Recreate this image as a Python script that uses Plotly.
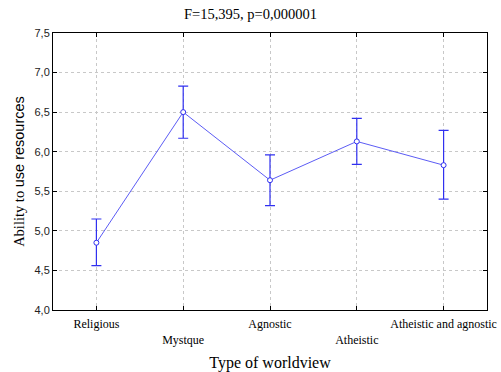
import plotly.graph_objects as go

categories = ["Religious", "Mystque", "Agnostic", "Atheistic", "Atheistic and agnostic"]
means = [4.85, 6.50, 5.64, 6.13, 5.83]
upper = [5.15, 6.83, 5.96, 6.42, 6.27]
lower = [4.56, 6.17, 5.32, 5.84, 5.40]
y_ticks = [4.0, 4.5, 5.0, 5.5, 6.0, 6.5, 7.0, 7.5]
y_tick_labels = ["4,0", "4,5", "5,0", "5,5", "6,0", "6,5", "7,0", "7,5"]

x_pos = list(range(len(categories)))
err_plus = [u - m for u, m in zip(upper, means)]
err_minus = [m - l for m, l in zip(means, lower)]
# alternate category labels between two rows
x_tick_text = [c if i % 2 == 0 else "<br>" + c for i, c in enumerate(categories)]

blue = "#3030f0"

fig = go.Figure(
    go.Scatter(
        x=x_pos,
        y=means,
        mode="lines+markers",
        line=dict(color="#5c5cf5", width=1),
        marker=dict(symbol="circle", size=5, color="white",
                    line=dict(width=1, color=blue)),
        error_y=dict(type="data", symmetric=False, array=err_plus,
                     arrayminus=err_minus, color=blue, thickness=1.2, width=5),
    )
)

grid = dict(showgrid=True, gridcolor="#c8c8c8", griddash="dot", gridwidth=1)

fig.update_layout(
    width=501,
    height=372,
    margin=dict(l=53, r=14, t=33, b=62),
    plot_bgcolor="white",
    paper_bgcolor="white",
    showlegend=False,
    title=dict(text="F=15,395, p=0,000001", x=0.5, xanchor="center",
               y=0.962, yanchor="middle",
               font=dict(family="Liberation Serif", size=14.5, color="black")),
    xaxis=dict(
        range=[-0.5, 4.5],
        tickvals=x_pos,
        ticktext=x_tick_text,
        ticks="inside",
        ticklen=4,
        tickcolor="black",
        mirror="ticks",
        showline=True,
        linecolor="black",
        linewidth=1,
        zeroline=False,
        automargin=False,
        ticklabelstandoff=3,
        tickfont=dict(family="Liberation Serif", size=12, color="black"),
        title=dict(text="Type of worldview", standoff=13,
                   font=dict(family="Liberation Serif", size=16, color="black")),
        **grid,
    ),
    yaxis=dict(
        range=[4.0, 7.5],
        tickvals=y_ticks,
        ticktext=y_tick_labels,
        ticks="inside",
        ticklen=4,
        tickcolor="black",
        mirror="ticks",
        showline=True,
        linecolor="black",
        linewidth=1,
        zeroline=False,
        automargin=False,
        tickfont=dict(family="Liberation Sans", size=11, color="#222222"),
        title=dict(text="Ability to <span style='font-family:Liberation Sans'>use resources</span>",
                   standoff=6,
                   font=dict(family="Liberation Serif", size=14.5, color="black")),
        **grid,
    ),
)

fig.write_html("out.html")
